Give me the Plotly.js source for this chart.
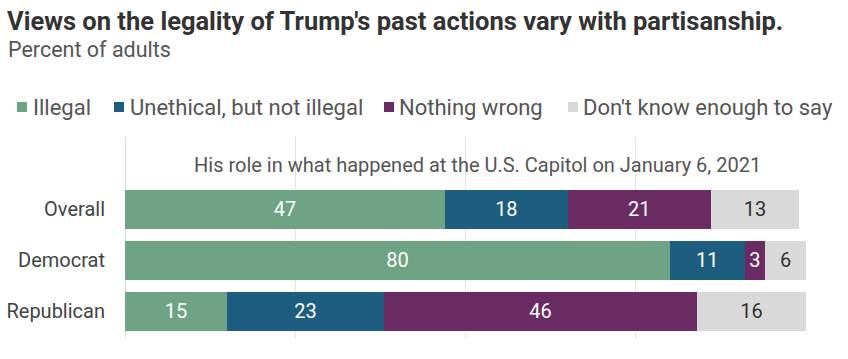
<!DOCTYPE html>
<html>
<head>
<meta charset="utf-8">
<script src="https://cdn.plot.ly/plotly-3.0.1.min.js"></script>
<style>
  html, body { margin: 0; padding: 0; background: #ffffff; }
  #chart { width: 848px; height: 359px; }
</style>
</head>
<body>
<div id="chart"></div>
<script>
// ---- Data ----
const categories = ['Overall', 'Democrat', 'Republican'];
const seriesNames = ['Illegal', 'Unethical, but not illegal', 'Nothing wrong', "Don't know enough to say"];
const illegal = [47, 80, 15];
const unethical = [18, 11, 23];
const nothingWrong = [21, 3, 46];
const dontKnow = [13, 6, 16];
const seriesValues = [illegal, unethical, nothingWrong, dontKnow];

const chartTitle = "Views on the legality of Trump's past actions vary with partisanship.";
const chartSubtitle = 'Percent of adults';
const panelTitle = 'His role in what happened at the U.S. Capitol on January 6, 2021';

// ---- Styles ----
const colors = ['#6ea386', '#1c5d80', '#6a2b63', '#d9d9d9'];
const textColors = ['#ffffff', '#ffffff', '#ffffff', '#333333'];
const FONT = 'Roboto, "Open Sans", sans-serif';

// layout geometry (pixels)
const W = 848, H = 359;
const M = {l: 125, r: 42, t: 137, b: 21};
const plotW = W - M.l - M.r, plotH = H - M.t - M.b;
const px2x = px => (px - M.l) / plotW;
const py2y = py => (H - M.b - py) / plotH;

const legendSquareX = [17, 114, 384, 568];
const legendTextX = [31, 128, 397, 581];

const traces = seriesNames.map((name, i) => ({
  type: 'bar',
  orientation: 'h',
  name: name,
  y: categories,
  x: seriesValues[i],
  marker: {color: colors[i], line: {width: 0}},
  texttemplate: '%{x}',
  textposition: 'inside',
  insidetextanchor: 'middle',
  textangle: 0,
  constraintext: 'none',
  textfont: {family: FONT, size: 20, color: textColors[i]},
  hoverinfo: 'skip'
}));

const shapes = [];
const annotations = [];

seriesNames.forEach((name, i) => {
  shapes.push({
    type: 'rect', xref: 'paper', yref: 'paper',
    x0: px2x(legendSquareX[i]), x1: px2x(legendSquareX[i] + 10),
    y0: py2y(112), y1: py2y(102),
    fillcolor: colors[i], line: {width: 0}
  });
  annotations.push({
    xref: 'paper', yref: 'paper',
    x: px2x(legendTextX[i]), y: py2y(107),
    xanchor: 'left', yanchor: 'middle',
    text: name, showarrow: false,
    font: {family: FONT, size: 22, color: '#555555'}
  });
});

annotations.push({
  xref: 'paper', yref: 'paper',
  x: px2x(6), y: py2y(49),
  xanchor: 'left', yanchor: 'middle',
  text: chartSubtitle, showarrow: false,
  font: {family: FONT, size: 21.5, color: '#555555'}
});

annotations.push({
  xref: 'paper', yref: 'paper',
  x: px2x(477), y: py2y(165),
  xanchor: 'center', yanchor: 'middle',
  text: panelTitle, showarrow: false,
  font: {family: FONT, size: 20, color: '#555555'}
});

const layout = {
  width: W, height: H,
  margin: {l: M.l, r: M.r, t: M.t, b: M.b, pad: 0},
  paper_bgcolor: '#ffffff',
  plot_bgcolor: '#ffffff',
  barmode: 'stack',
  bargap: 0.25,
  showlegend: false,
  title: {
    text: chartTitle,
    font: {family: FONT, size: 25.5, color: '#333333', weight: 'bold'},
    xref: 'container', yref: 'container',
    x: 7 / W, xanchor: 'left',
    y: 1 - 21 / H, yanchor: 'middle'
  },
  xaxis: {
    range: [0, 100],
    tick0: 0, dtick: 25,
    showgrid: true, gridcolor: '#e2e2e2', gridwidth: 1,
    zeroline: true, zerolinecolor: '#d9d9d9', zerolinewidth: 1,
    showticklabels: false, ticks: '', showline: false,
    fixedrange: true
  },
  yaxis: {
    type: 'category',
    categoryorder: 'array', categoryarray: categories,
    range: [2.52, -1.42],
    ticks: 'outside', ticklen: 15, tickcolor: 'rgba(0,0,0,0)',
    tickfont: {family: FONT, size: 20, color: '#444444'},
    showgrid: false, zeroline: false, showline: false,
    fixedrange: true
  },
  shapes: shapes,
  annotations: annotations,
  font: {family: FONT}
};

Plotly.newPlot('chart', traces, layout, {displayModeBar: false, staticPlot: true});
</script>
</body>
</html>
